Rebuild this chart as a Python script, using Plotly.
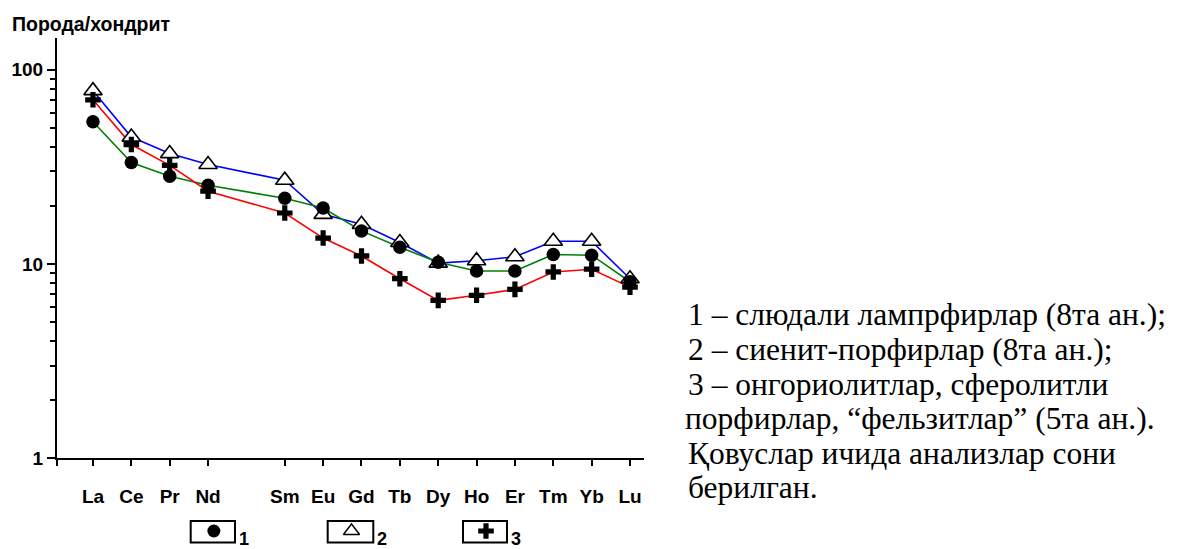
import plotly.graph_objects as go

# Chondrite-normalised REE patterns
elements = ["La", "Ce", "Pr", "Nd", "Sm", "Eu", "Gd", "Tb", "Dy", "Ho", "Er", "Tm", "Yb", "Lu"]
atomic_numbers = [57, 58, 59, 60, 62, 63, 64, 65, 66, 67, 68, 69, 70, 71]

# 1 - mica lamprophyres
lamprophyres = [54, 33.3, 28.3, 25.4, 21.8, 19.4, 14.8, 12.2, 10.2, 9.2, 9.2, 11.2, 11.1, 8.1]
# 2 - syenite porphyries
syenite_porphyries = [78, 45, 37, 32.5, 27, 18.0, 16.0, 12.9, 10.1, 10.4, 10.9, 13.1, 13.1, 8.4]
# 3 - ongoriolites, spherulitic porphyries, felsites
felsites = [70, 41.2, 32.2, 23.7, 18.3, 13.6, 11.0, 8.4, 6.5, 6.9, 7.4, 9.1, 9.4, 7.6]

y_ticks = [1, 10, 100]
y_ticktext = ["1", "10", "100"]

note_lines = [
    "1 – слюдали лампрфирлар (8та ан.);",
    "2 – сиенит-порфирлар (8та ан.);",
    "3 – онгориолитлар, сферолитли",
    "порфирлар, “фельзитлар” (5та ан.).",
    "Қовуслар ичида анализлар сони",
    "берилган.",
]

W, H = 1179, 558
# plot area in pixels
PX0, PX1, PY0, PY1 = 57, 644, 38.6, 467.5

SANS = "Liberation Sans, Arial, sans-serif"
SERIF = "Liberation Serif, Times New Roman, serif"

fig = go.Figure()

# connecting lines first so every marker sits above them
for vals, col in [(syenite_porphyries, "#0000ff"), (lamprophyres, "#008000"), (felsites, "#ff0000")]:
    fig.add_trace(go.Scatter(x=atomic_numbers, y=vals, mode="lines",
                             line=dict(color=col, width=1.6), showlegend=False, hoverinfo="skip"))

fig.add_trace(go.Scatter(x=atomic_numbers, y=syenite_porphyries, mode="markers", showlegend=False,
                         marker=dict(symbol="triangle-up", size=16, color="white",
                                     line=dict(color="black", width=1.6))))
fig.add_trace(go.Scatter(x=atomic_numbers, y=lamprophyres, mode="markers", showlegend=False,
                         marker=dict(symbol="circle", size=13.5, color="black", line=dict(width=0))))
fig.add_trace(go.Scatter(x=atomic_numbers, y=felsites, mode="markers", showlegend=False,
                         marker=dict(symbol="cross", size=13, color="black", line=dict(width=0))))

x_lo, x_hi = 56.062, 71.365

fig.update_layout(
    width=W, height=H, autosize=False,
    margin=dict(l=0, r=0, t=0, b=0),
    paper_bgcolor="white", plot_bgcolor="rgba(0,0,0,0)",
    showlegend=False,
    xaxis=dict(
        domain=[PX0 / W, PX1 / W], range=[x_lo, x_hi], anchor="y",
        tickmode="array", tickvals=[x_lo] + atomic_numbers, ticktext=[""] + elements,
        ticks="outside", ticklen=6, tickwidth=2, tickcolor="black", ticklabelstandoff=14,
        showline=True, linecolor="black", linewidth=2, showgrid=False, zeroline=False,
        tickfont=dict(family=SANS, size=19, color="black", weight="bold"),
        fixedrange=True,
    ),
    yaxis=dict(
        domain=[(H - PY1) / H, (H - PY0) / H], type="log", range=[0, 2.164],
        anchor="x",
        tickmode="array", tickvals=y_ticks, ticktext=y_ticktext,
        ticks="outside", ticklen=8, tickwidth=2, tickcolor="black",
        minor=dict(tickmode="array",
                   tickvals=[2, 3, 4, 5, 6, 7, 8, 9, 20, 30, 40, 50, 60, 70, 80, 90],
                   ticks="outside", ticklen=5, tickwidth=1.5, tickcolor="black", showgrid=False),
        showline=True, linecolor="black", linewidth=2, showgrid=False, zeroline=False,
        tickfont=dict(family=SANS, size=19, color="black", weight="bold"),
        fixedrange=True,
    ),
    # pixel-space helper axes for the symbol key below the chart
    xaxis2=dict(domain=[0, 1], range=[0, W], anchor="y2", visible=False, fixedrange=True),
    yaxis2=dict(domain=[0, 1], range=[H, 0], anchor="x2", visible=False, fixedrange=True),
)

# symbol key: boxed markers with numbers
key = [
    (190.7, 235.0, "circle", 13, "black", 0, "1"),
    (327.7, 373.3, "triangle-up", 14, "white", 1.4, "2"),
    (463.0, 507.0, "cross", 13, "black", 0, "3"),
]
for x0, x1, sym, sz, fill, lw, num in key:
    fig.add_shape(type="rect", xref="x2", yref="y2", x0=x0, x1=x1, y0=531.6, y1=553.4,
                  line=dict(color="black", width=2), fillcolor="rgba(0,0,0,0)")
    fig.add_trace(go.Scatter(x=[(x0 + x1) / 2 + 1], y=[541.7], xaxis="x2", yaxis="y2",
                             mode="markers", showlegend=False, hoverinfo="skip",
                             marker=dict(symbol=sym, size=sz, color=fill,
                                         line=dict(color="black", width=lw))))
    fig.add_annotation(x=x1 + 2, y=549.5, xref="x2", yref="y2", text=num, showarrow=False,
                       xanchor="left", yanchor="middle",
                       font=dict(family=SANS, size=18, color="black", weight="bold"))

# y-axis caption
fig.add_annotation(x=10, y=24.4, xref="x2", yref="y2", text="Порода/хондрит", showarrow=False,
                   xanchor="left", yanchor="middle",
                   font=dict(family=SANS, size=19.5, color="black", weight="bold"))

# explanatory notes to the right of the chart
line_x = [686, 686, 686, 683, 686, 686]
for i, (txt, lx) in enumerate(zip(note_lines, line_x)):
    fig.add_annotation(x=lx, y=321.2 + i * 35.27, xref="x2", yref="y2", text=txt, showarrow=False,
                       xanchor="left", yanchor="middle",
                       font=dict(family=SERIF, size=31.5, color="black"))

fig.write_html("out.html")
